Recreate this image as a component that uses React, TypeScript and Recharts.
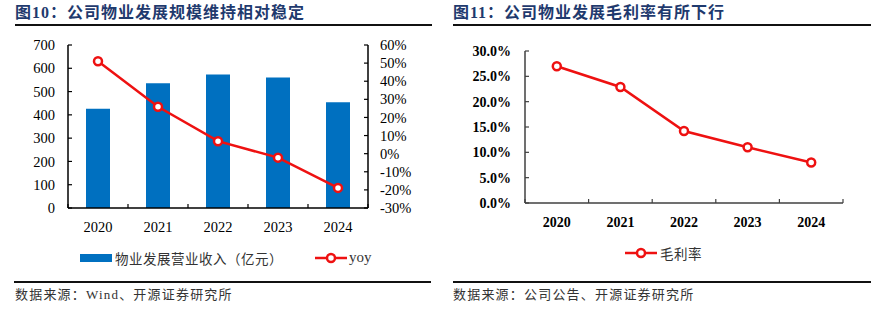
import React from 'react';
import { ComposedChart, LineChart, Bar, Line, XAxis, YAxis } from 'recharts';

const years = ['2020', '2021', '2022', '2023', '2024'];
const revenue = [426, 536, 573, 560, 454];
const yoy = [51.0, 25.9, 6.9, -2.2, -18.9];
const grossMargin = [0.27, 0.229, 0.142, 0.11, 0.08];
const revenueTicks = [0, 100, 200, 300, 400, 500, 600, 700];
const yoyTicks = [-30, -20, -10, 0, 10, 20, 30, 40, 50, 60];
const marginTicks = [0, 0.05, 0.1, 0.15, 0.2, 0.25, 0.3];

const leftTitle = '图10：公司物业发展规模维持相对稳定';
const rightTitle = '图11：公司物业发展毛利率有所下行';
const leftSource = '数据来源：Wind、开源证券研究所';
const rightSource = '数据来源：公司公告、开源证券研究所';
const revenueName = '物业发展营业收入（亿元）';
const yoyName = 'yoy';
const marginName = '毛利率';

const leftData = years.map((y, i) => ({ year: y, revenue: revenue[i], yoy: yoy[i] }));
const rightData = years.map((y, i) => ({ year: y, gm: grossMargin[i] }));

const BLUE = '#0070C0';
const RED = '#EE1111';
const SERIF = '"Liberation Serif", "Times New Roman", serif';
const CJK = '"Liberation Serif", "Noto Sans CJK SC", sans-serif';

const makeXTick = (band: number, margin: number, bold: boolean, stroke: string) => (props: any) => {
  const { x, y, payload, index, visibleTicksCount } = props;
  const axisY = y - margin;
  return (
    <g>
      <line x1={x - band / 2} x2={x - band / 2} y1={axisY} y2={axisY - 4} stroke={stroke} strokeWidth={1.2} />
      {index === visibleTicksCount - 1 && (
        <line x1={x + band / 2} x2={x + band / 2} y1={axisY} y2={axisY - 4} stroke={stroke} strokeWidth={1.2} />
      )}
      <text
        x={x}
        y={y}
        dy="0.71em"
        textAnchor="middle"
        fill="#000"
        fontFamily={SERIF}
        fontSize={bold ? 14 : 14.5}
        fontWeight={bold ? 700 : 400}
      >
        {payload.value}
      </text>
    </g>
  );
};

const titleStyle = (left: number): React.CSSProperties => ({
  position: 'absolute',
  left,
  top: 4,
  fontFamily: CJK,
  fontWeight: 700,
  fontSize: 16,
  letterSpacing: 1,
  color: '#1F3A6E',
  whiteSpace: 'nowrap',
  lineHeight: '18px',
});

const ruleStyle = (left: number, top: number, width: number): React.CSSProperties => ({
  position: 'absolute',
  left,
  top,
  width,
  height: 1.5,
  background: '#111',
});

const sourceStyle = (left: number): React.CSSProperties => ({
  position: 'absolute',
  left,
  top: 287,
  fontFamily: '"Liberation Serif", "Noto Sans CJK SC", serif',
  fontSize: 13,
  letterSpacing: 1.2,
  color: '#333',
  whiteSpace: 'nowrap',
  lineHeight: '16px',
});

const LineMarker = () => (
  <svg width={34} height={12} style={{ display: 'block' }}>
    <line x1={1} x2={33} y1={6} y2={6} stroke={RED} strokeWidth={2.5} />
    <circle cx={17} cy={6} r={4} fill="#fff" stroke={RED} strokeWidth={2.5} />
  </svg>
);

const legendText: React.CSSProperties = {
  position: 'absolute',
  fontFamily: '"Noto Sans CJK SC", sans-serif',
  fontSize: 13.5,
  color: '#333',
  lineHeight: '18px',
  letterSpacing: 0.5,
  whiteSpace: 'nowrap',
};

const LeftLegend = () => (
  <div style={{ position: 'absolute', left: 0, top: 248, width: 440, height: 20 }}>
    <div style={{ position: 'absolute', left: 80, top: 6, width: 32, height: 8, background: BLUE }} />
    <div style={{ ...legendText, left: 115, top: 1 }}>{revenueName}</div>
    <div style={{ position: 'absolute', left: 314, top: 4 }}>
      <LineMarker />
    </div>
    <div style={{ ...legendText, left: 349, top: 0, fontFamily: SERIF, fontSize: 15, letterSpacing: 0 }}>{yoyName}</div>
  </div>
);

const RightLegend = () => (
  <div style={{ position: 'absolute', left: 440, top: 243, width: 444, height: 20 }}>
    <div style={{ position: 'absolute', left: 184, top: 4 }}>
      <LineMarker />
    </div>
    <div style={{ ...legendText, left: 220, top: 1 }}>{marginName}</div>
  </div>
);

export default function App() {
  const leftBand = 300 / years.length;
  const rightBand = 318 / years.length;
  return (
    <div style={{ position: 'absolute', left: 0, top: 0, width: 884, height: 329, background: '#fff', overflow: 'hidden' }}>
      <div style={titleStyle(15)}>{leftTitle}</div>
      <div style={ruleStyle(15, 24, 417)} />
      <div style={titleStyle(453)}>{rightTitle}</div>
      <div style={ruleStyle(453, 24, 418)} />

      <div style={{ position: 'absolute', left: 0, top: 0 }}>
        <ComposedChart
          width={440}
          height={280}
          data={leftData}
          margin={{ top: 45, right: 22, left: 0, bottom: 42 }}
        >
          <XAxis
            dataKey="year"
            height={30}
            tickSize={0}
            tickMargin={14}
            tickLine={false}
            axisLine={{ stroke: '#000', strokeWidth: 1.5 }}
            interval={0}
            tick={makeXTick(leftBand, 14, false, '#000')}
          />
          <YAxis
            yAxisId="left"
            orientation="left"
            width={68}
            domain={[0, 700]}
            ticks={revenueTicks}
            interval={0}
            tickSize={-4}
            tickMargin={17}
            axisLine={{ stroke: '#000', strokeWidth: 1.5 }}
            tickLine={{ stroke: '#000', strokeWidth: 1.2 }}
            tick={{ fill: '#000', fontFamily: SERIF, fontSize: 14.5 }}
          />
          <YAxis
            yAxisId="right"
            orientation="right"
            width={50}
            domain={[-30, 60]}
            ticks={yoyTicks}
            interval={0}
            tickSize={-4}
            tickMargin={16}
            tickFormatter={(v: number) => `${v}%`}
            axisLine={{ stroke: '#000', strokeWidth: 1.5 }}
            tickLine={{ stroke: '#000', strokeWidth: 1.2 }}
            tick={{ fill: '#000', fontFamily: SERIF, fontSize: 14.5, textAnchor: 'start' }}
          />
          <Bar yAxisId="left" dataKey="revenue" name={revenueName} fill={BLUE} barSize={24} isAnimationActive={false} />
          <Line
            yAxisId="right"
            dataKey="yoy"
            name={yoyName}
            stroke={RED}
            strokeWidth={2.5}
            dot={{ r: 4, fill: '#fff', stroke: RED, strokeWidth: 2.5 }}
            activeDot={false}
            isAnimationActive={false}
          />
        </ComposedChart>
      </div>

      <div style={{ position: 'absolute', left: 440, top: 0 }}>
        <LineChart
          width={444}
          height={280}
          data={rightData}
          margin={{ top: 51, right: 41, left: 0, bottom: 47 }}
        >
          <XAxis
            dataKey="year"
            scale="band"
            height={30}
            tickSize={0}
            tickMargin={14}
            tickLine={false}
            axisLine={{ stroke: '#404040', strokeWidth: 1.5 }}
            interval={0}
            tick={makeXTick(rightBand, 14, true, '#404040')}
          />
          <YAxis
            width={85}
            domain={[0, 0.3]}
            ticks={marginTicks}
            interval={0}
            tickSize={-4}
            tickMargin={18}
            tickFormatter={(v: number) => `${(v * 100).toFixed(1)}%`}
            axisLine={{ stroke: '#404040', strokeWidth: 1.5 }}
            tickLine={{ stroke: '#404040', strokeWidth: 1.2 }}
            tick={{ fill: '#000', fontFamily: SERIF, fontSize: 14, fontWeight: 700 }}
          />
          <Line
            dataKey="gm"
            name={marginName}
            stroke={RED}
            strokeWidth={2.5}
            dot={{ r: 4, fill: '#fff', stroke: RED, strokeWidth: 2.5 }}
            activeDot={false}
            isAnimationActive={false}
          />
        </LineChart>
      </div>

      <LeftLegend />
      <RightLegend />

      <div style={ruleStyle(14, 281, 417)} />
      <div style={sourceStyle(15)}>{leftSource}</div>
      <div style={ruleStyle(453, 281, 418)} />
      <div style={sourceStyle(453)}>{rightSource}</div>
    </div>
  );
}
